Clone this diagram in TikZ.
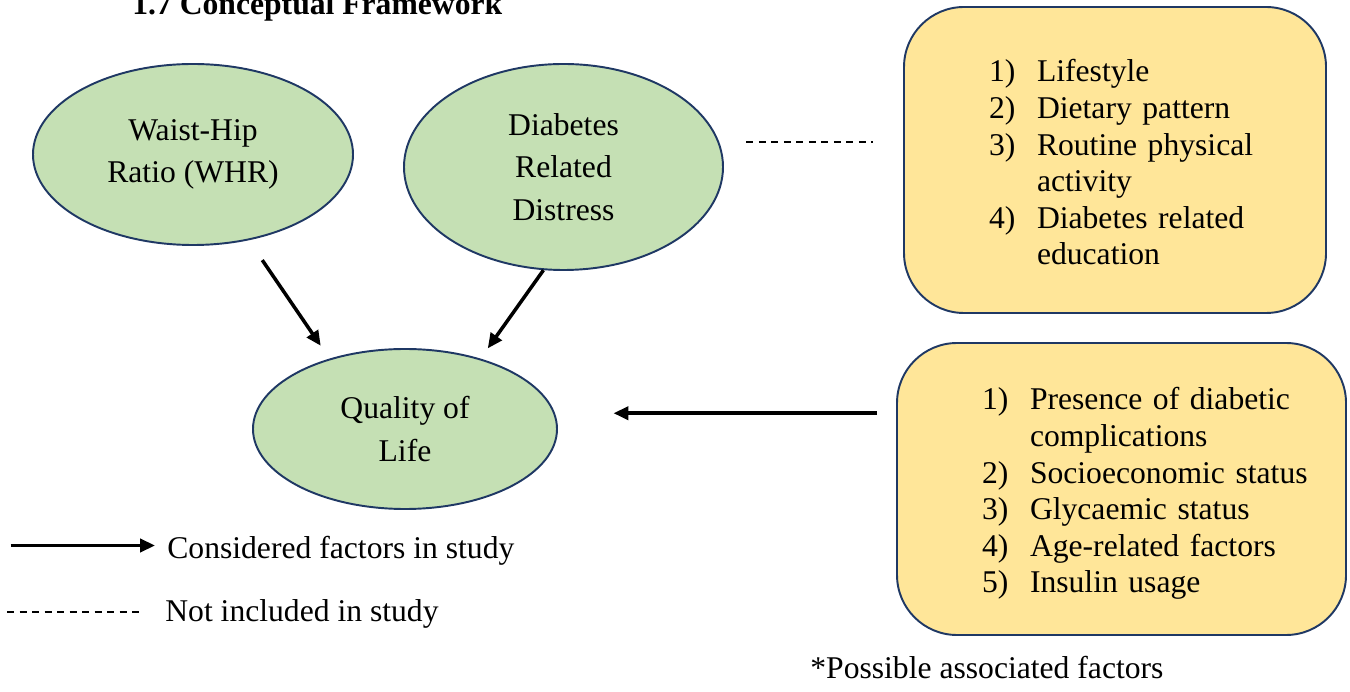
\documentclass[tikz,border=0pt]{standalone}
\usepackage{fontspec}
\setmainfont{Liberation Serif}
\usetikzlibrary{arrows.meta,shapes.geometric}

\definecolor{leafgreen}{HTML}{C5E0B4}
\definecolor{paleyellow}{HTML}{FFE699}
\definecolor{navyline}{HTML}{1F3864}

\tikzset{
  factor/.style={ellipse,draw=navyline,fill=leafgreen,line width=1.1pt,
    align=center,inner sep=0pt,font=\fontsize{18}{24.1}\selectfont},
  factorbox/.style={rectangle,rounded corners=1.2cm,draw=navyline,fill=paleyellow,
    line width=1.1pt,inner xsep=1.7cm,inner ysep=0pt,align=left,
    font=\fontsize{18}{20.8}\selectfont},
  plain/.style={anchor=base west,inner sep=0pt,font=\fontsize{18}{20.8}\selectfont},
  arrowline/.style={line width=2pt},
  dashline/.style={line width=1.1pt,dash pattern=on 0.14cm off 0.11cm}
}

\begin{document}
\begin{tikzpicture}[>={Triangle[length=8.5pt,width=7.5pt]}]
\useasboundingbox (0,0) rectangle (27,-13.84);

\node[plain,font=\fontsize{18}{20.8}\selectfont\bfseries] (title) at (2.64,-0.30) {1.7 Conceptual Framework};

\node[factor,minimum width=6.4cm,minimum height=3.62cm]  (whr) at (3.86,-3.09)  {Waist-Hip\\Ratio (WHR)};
 \node[factor,minimum width=6.38cm,minimum height=4.12cm] (drd) at (11.27,-3.34) {Diabetes\\Related\\Distress};
	\node[factor,minimum width=6.08cm,minimum height=3.2cm]  (qol) at (8.10,-8.58)  {Quality of\\Life};

\node[factorbox,text width=5.04cm,minimum height=6.12cm] (lifebox) at (22.30,-3.20)
  {\noindent\begin{tabular}{@{}p{0.96cm}@{}l@{}}
   \noalign{\vskip 0.24cm}
   1) & Lifestyle\\
   2) & Dietary pattern\\
   3) & Routine physical\\
      & activity\\
   4) & Diabetes related\\
      & education
  \end{tabular}};
\node[factorbox,text width=5.58cm,minimum height=5.84cm] (riskbox) at (22.43,-9.78)
  {\noindent\begin{tabular}{@{}p{0.96cm}@{}l@{}}
   \noalign{\vskip 0.2cm}
   1) & Presence of diabetic\\
      & complications\\
   2) & Socioeconomic status\\
   3) & Glycaemic status\\
   4) & Age-related factors\\
   5) & Insulin usage
  \end{tabular}};

	\path[->,arrowline] (whr.-57)  edge[shorten <=0.48cm,shorten >=0.31cm] (qol.137)
        (drd.259) edge[shorten >=0.25cm] (qol.43)
        (riskbox.west |- qol.6.5) edge[shorten <=0.38cm,shorten >=1.17cm] (qol.6.5);

\draw[dashline,shorten <=0.54cm,shorten >=0.6cm] (drd.9.2) -- (lifebox.west |- drd.9.2);

% key
\node[plain] (keysolid) at (3.34,-11.16) {Considered factors in study};
\node[plain] (keydash) at (3.30,-12.42) {Not included in study};
\coordinate (solidtail) at (0.21,-10.91);
\coordinate (dashtail) at (0.14,-12.24);
\draw[->,arrowline,shorten >=0.24cm] (solidtail) -- (keysolid.west |- solidtail);
\draw[dashline,shorten >=0.46cm] (dashtail) -- (keydash.west |- dashtail);

\node[plain] (note) at (16.2,-13.56) {*Possible associated factors};
		\end{tikzpicture}
\end{document}
